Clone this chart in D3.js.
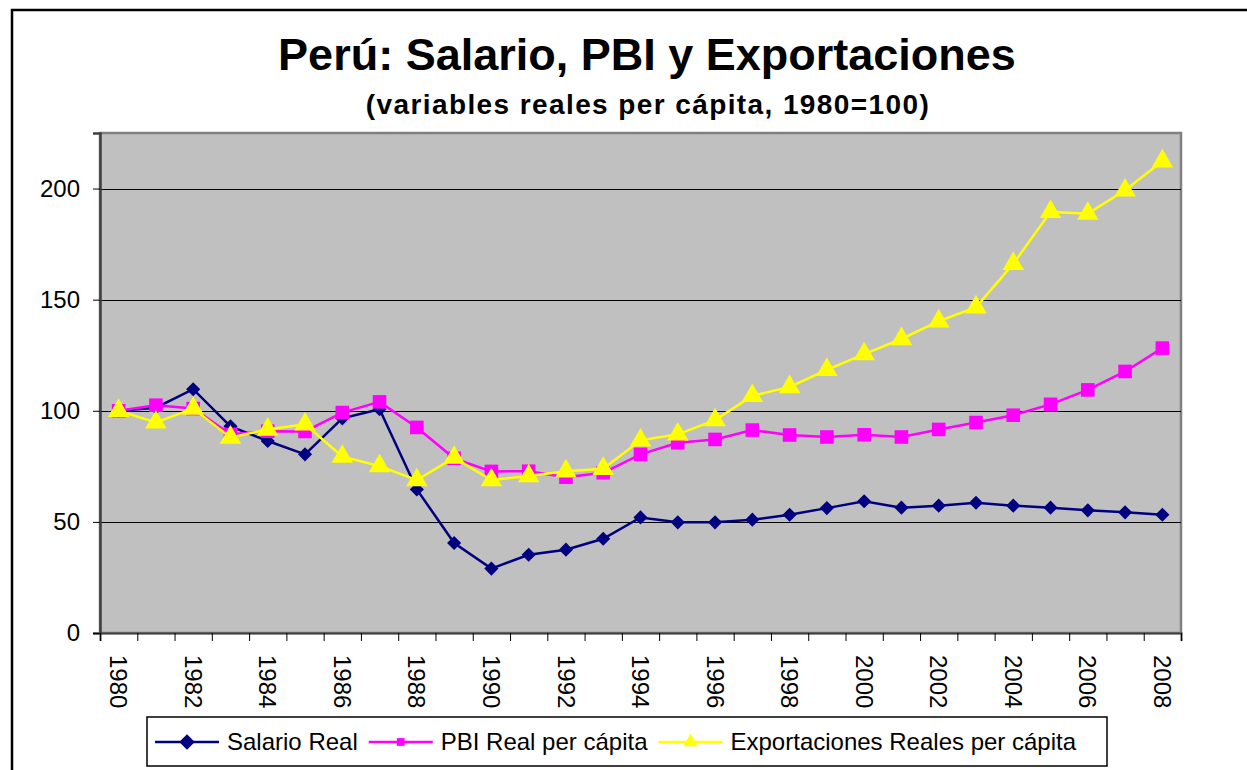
<!DOCTYPE html>
<html>
<head>
<meta charset="utf-8">
<script src="https://cdn.jsdelivr.net/npm/d3@7"></script>
<style>
  body { margin: 0; background: #fff; }
  svg { display: block; font-family: "Liberation Sans", Arial, sans-serif; }
</style>
</head>
<body>
<div id="chart"></div>
<script>

////////////////////
// DATA

var years = [1980, 1981, 1982, 1983, 1984, 1985, 1986, 1987, 1988, 1989,
             1990, 1991, 1992, 1993, 1994, 1995, 1996, 1997, 1998, 1999,
             2000, 2001, 2002, 2003, 2004, 2005, 2006, 2007, 2008];
var yearLabels = [1980, 1982, 1984, 1986, 1988, 1990, 1992, 1994, 1996, 1998,
                  2000, 2002, 2004, 2006, 2008];
var yTicks = [0, 50, 100, 150, 200];

var salario = [100, 101.4, 109.7, 93, 86.4, 80.4, 96.6, 100.7, 64.6, 40.5,
               29, 35.2, 37.5, 42.4, 52, 49.8, 49.8, 51, 53.2, 56.2,
               59.3, 56.4, 57.3, 58.6, 57.3, 56.4, 55.2, 54.3, 53.2];
var pbi = [100, 102.5, 101, 89.4, 90.8, 90.7, 99.2, 104, 92.5, 78.6,
           72.7, 72.8, 70.1, 72.1, 80.4, 85.6, 87.1, 91.3, 89.1, 88.2,
           89.2, 88.2, 91.6, 94.7, 98, 102.9, 109.4, 117.7, 128.2];
var exportaciones = [100, 94.8, 101, 88, 91.6, 93.9, 79.4, 75.1, 68.8, 78.9,
                     68.8, 70.6, 72.8, 73.9, 86.7, 89.4, 95.8, 106.7, 110.7, 118.4,
                     125.5, 132.3, 140.3, 146.6, 166.1, 189.5, 188.7, 199.2, 212.3];

var seriesNames = ["Salario Real", "PBI Real per cápita", "Exportaciones Reales per cápita"];
var seriesColors = ["#000080", "#FF00FF", "#FFFF00"];
// diamond = square turned 45deg (excel style, not the tall d3 diamond)
var seriesSymbols = [d3.symbolSquare, d3.symbolSquare, d3.symbolTriangle];
var seriesRotate = [45, 0, 0];
var seriesValues = [salario, pbi, exportaciones];

////////////////////
// LAYOUT

var w = 1247;
var h = 770;
var plot = {left: 100, top: 133, right: 1181, bottom: 633};

var svg = d3.select("#chart")
  .append("svg")
  .attr("width", w)
  .attr("height", h);

// outer frame (runs off the right / bottom edge like the original)
svg.append("rect")
  .attr("x", 12).attr("y", 10)
  .attr("width", 1300).attr("height", 900)
  .attr("fill", "#fff")
  .attr("stroke", "#000")
  .attr("stroke-width", 2.5);

// titles
svg.append("text")
  .attr("x", 647).attr("y", 70)
  .attr("text-anchor", "middle")
  .attr("font-size", 45)
  .attr("font-weight", "bold")
  .text("Perú: Salario, PBI y Exportaciones");

svg.append("text")
  .attr("x", 648).attr("y", 114)
  .attr("text-anchor", "middle")
  .attr("font-size", 28)
  .attr("font-weight", "bold")
  .attr("letter-spacing", 1.4)
  .text("(variables reales per cápita, 1980=100)");

////////////////////
// SCALES

var x = d3.scaleBand()
  .domain(years)
  .range([plot.left, plot.right])
  .paddingInner(0)
  .paddingOuter(0);

var xEdge = d3.scaleLinear()
  .domain([0, years.length])
  .range([plot.left, plot.right]);

var y = d3.scaleLinear()
  .domain([0, 225])
  .range([plot.bottom, plot.top]);

////////////////////
// PLOT AREA

svg.append("rect")
  .attr("x", plot.left).attr("y", plot.top)
  .attr("width", plot.right - plot.left)
  .attr("height", plot.bottom - plot.top)
  .attr("fill", "#C0C0C0")
  .attr("stroke", "#808080")
  .attr("stroke-width", 2.5);

// gridlines
svg.append("g")
  .selectAll("line")
  .data(yTicks.filter(function(d) { return d > 0; }))
  .enter().append("line")
  .attr("x1", plot.left).attr("x2", plot.right)
  .attr("y1", function(d) { return Math.round(y(d)) + 0.5; })
  .attr("y2", function(d) { return Math.round(y(d)) + 0.5; })
  .attr("stroke", "#000")
  .attr("stroke-width", 1);

// y axis
var yAxis = svg.append("g")
  .attr("transform", "translate(" + plot.left + ",0)")
  .call(d3.axisLeft(y).tickValues(yTicks).tickSize(7).tickPadding(13));
yAxis.select(".domain").attr("stroke", "#404040").attr("stroke-width", 2.5);
yAxis.selectAll(".tick line").attr("stroke", "#000");
yAxis.selectAll(".tick text")
  .attr("font-size", 24)
  .attr("font-family", "'Liberation Sans', Arial, sans-serif")
  .attr("fill", "#000");

// x axis ticks between categories
var xAxis = svg.append("g")
  .attr("transform", "translate(0," + plot.bottom + ")")
  .call(d3.axisBottom(xEdge).tickValues(d3.range(years.length + 1)).tickSize(8).tickFormat(""));
xAxis.select(".domain").attr("stroke", "#404040").attr("stroke-width", 2);
xAxis.selectAll(".tick line").attr("stroke", "#000");

// x labels, rotated
svg.append("g")
  .selectAll("text")
  .data(yearLabels)
  .enter().append("text")
  .attr("transform", function(d) {
    return "translate(" + (x(d) + x.bandwidth() / 2) + ",655) rotate(90)";
  })
  .attr("dy", "0.35em")
  .attr("text-anchor", "start")
  .attr("font-size", 24)
  .text(function(d) { return d; });

////////////////////
// SERIES

var line = d3.line()
  .x(function(d, i) { return x(years[i]) + x.bandwidth() / 2; })
  .y(function(d) { return y(d); });

var markerSizes = [100, 185, 200];

seriesValues.forEach(function(vals, k) {
  var g = svg.append("g");
  g.append("path")
    .datum(vals)
    .attr("d", line)
    .attr("fill", "none")
    .attr("stroke", seriesColors[k])
    .attr("stroke-width", 2.5);
  g.selectAll("path.marker")
    .data(vals)
    .enter().append("path")
    .attr("class", "marker")
    .attr("d", d3.symbol().type(seriesSymbols[k]).size(markerSizes[k]))
    .attr("transform", function(d, i) {
      return "translate(" + (x(years[i]) + x.bandwidth() / 2) + "," + y(d) + ") rotate(" + seriesRotate[k] + ")";
    })
    .attr("fill", seriesColors[k]);
});

////////////////////
// LEGEND

var legend = svg.append("g");
legend.append("rect")
  .attr("x", 147).attr("y", 717)
  .attr("width", 960).attr("height", 49)
  .attr("fill", "#fff")
  .attr("stroke", "#000")
  .attr("stroke-width", 1.5);

var lx = 155;
var ly = 742;
var legendSizes = [120, 60, 90];
seriesNames.forEach(function(name, k) {
  legend.append("line")
    .attr("x1", lx).attr("x2", lx + 64)
    .attr("y1", ly).attr("y2", ly)
    .attr("stroke", seriesColors[k])
    .attr("stroke-width", 2.5);
  legend.append("path")
    .attr("d", d3.symbol().type(seriesSymbols[k]).size(legendSizes[k]))
    .attr("transform", "translate(" + (lx + 32) + "," + ly + ") rotate(" + seriesRotate[k] + ")")
    .attr("fill", seriesColors[k]);
  var t = legend.append("text")
    .attr("x", lx + 72).attr("y", ly)
    .attr("dy", "0.35em")
    .attr("font-size", 24)
    .text(name);
  lx = lx + 72 + t.node().getComputedTextLength() + 11;
});

</script>
</body>
</html>
